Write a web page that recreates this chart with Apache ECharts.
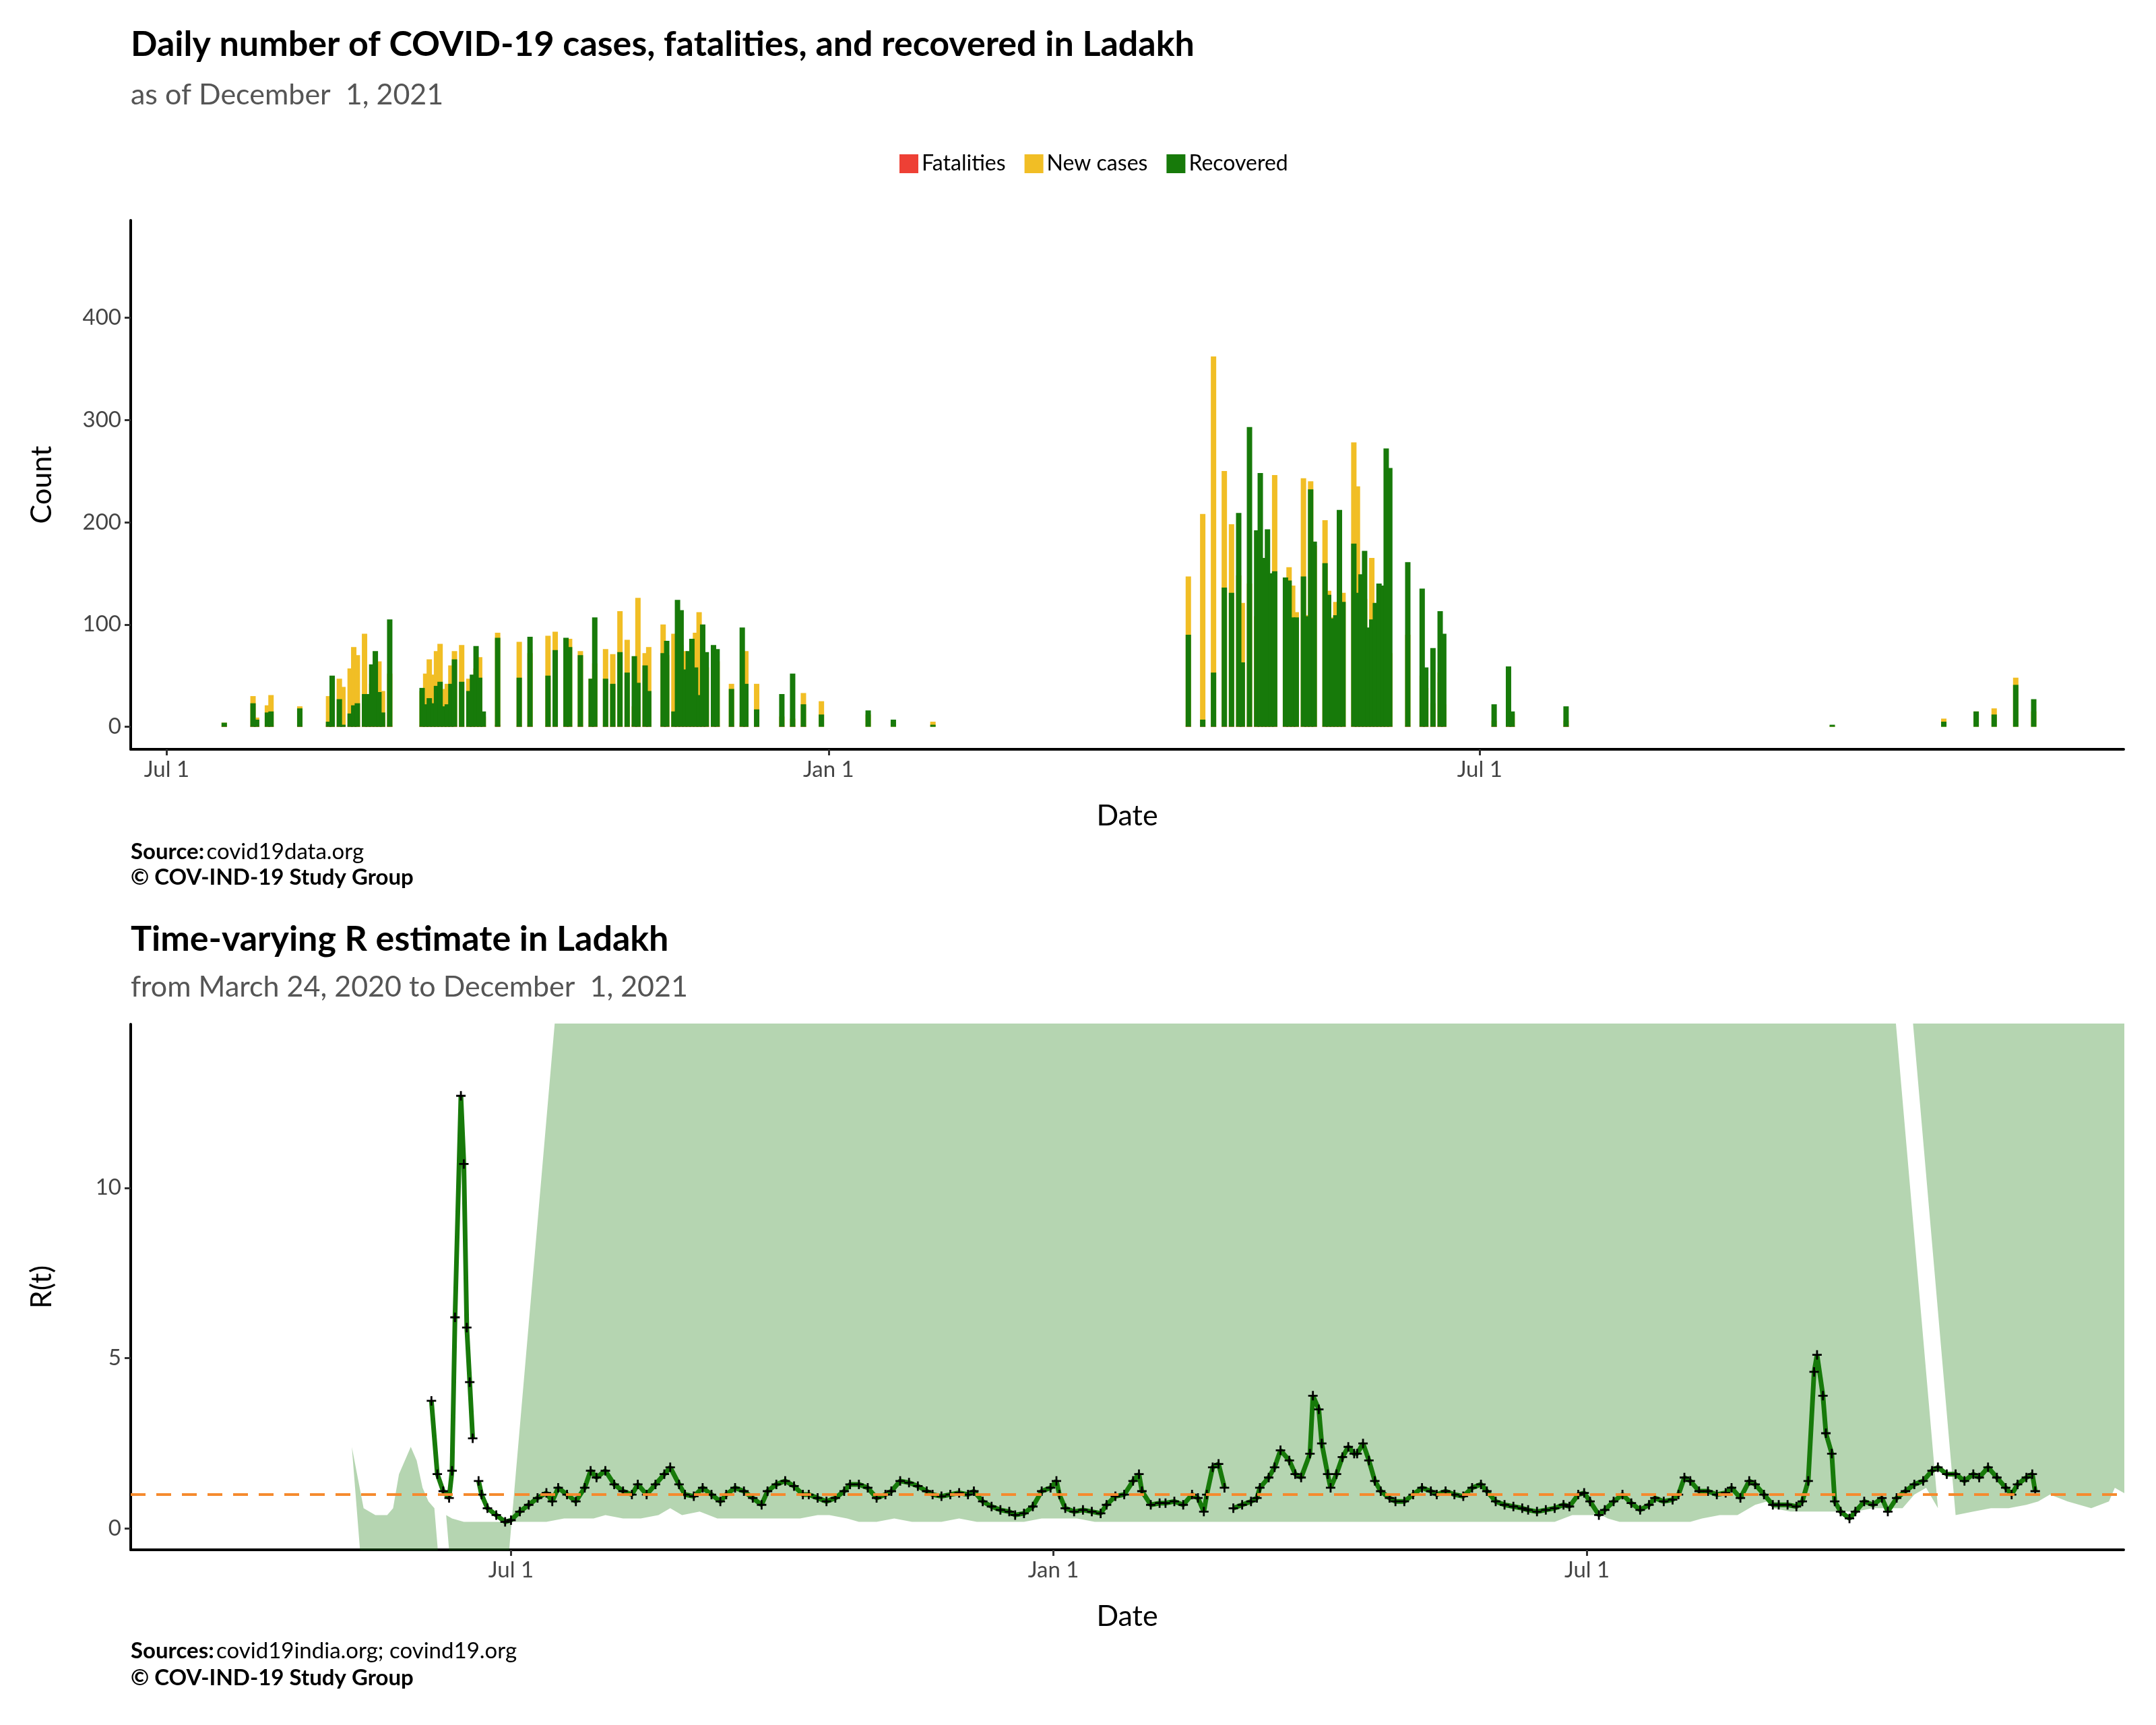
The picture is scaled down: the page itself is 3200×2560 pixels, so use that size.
<!DOCTYPE html>
<html>
<head>
<meta charset="utf-8">
<script src="https://cdn.jsdelivr.net/npm/echarts@6/dist/echarts.min.js"></script>
<style>html,body{margin:0;background:#fff}#c{width:3200px;height:2560px}</style>
</head>
<body>
<div id="c"></div>
<script>
// day offsets from 2020-07-01
var barDays = [16,24,25,28,29,37,45,46,48,49, 51,52,53,55,56,57,58,59,60,62, 71,72,73,74,75,76,77,78,79,80,
	82,84,85,86,87,88,92,98,101,106, 108,111,112,115,118,119,122,124,126,128, 130,131,133,134,138,139,141,142,143,144,
	145,146,147,148,149,150,152,153,157,160, 161,164,171,174,177,182,195,202,213,
	284,288,291,294,296,298,299,301,303,304, 305,306,307,308,311,312,313,314,316,317, 318,319,322,323,324,325,326,327,330,331,
	332,333,334,335,336,337,338,339,340,345, 349,350,352,354,355,369,373,374,389,463, 494,503,508,514,519];
var newCases = [4,30,9,21,31,20,30,42,47,39, 57,78,70,91,31,42,49,64,35,52, 35,52,66,51,74,81,37,42,60,74,
	80,47,37,57,68,10,92,83,72,89, 93,48,86,74,47,62,76,71,113,85, 20,126,72,78,100,70,91,74,80,74,
	7,85,92,112,45,58,13,64,42,4, 74,42,10,8,33,25,12,5,5,
	147,208,362,250,198,148,121,140,108,104, 118,140,90,246,114,156,138,112,243,109, 240,177,202,133,107,122,133,131,278,235,
	141,125,49,165,88,91,113,122,72,90, 50,38,23,53,22,6,13,13,6,1, 8,15,18,48,15];
var fatalities = [1,1,1,1,1,1,1,3,1,1, 1,2,1,1,1,1,1,2,1,1, 1,1,1,1,2,1,1,1,1,1,
	1,1,2,1,1,1,2,1,1,1, 1,2,1,1,1,1,1,1,1,1, 2,1,1,1,2,1,1,1,1,1,
	1,1,1,2,1,1,1,1,1,1, 1,1,1,1,1,0,0,0,0,
	1,1,1,1,1,1,1,1,1,1, 1,1,1,1,1,1,1,1,1,1, 2,1,1,1,1,1,1,1,1,1,
	1,1,1,1,1,1,1,1,1,1, 1,1,1,1,1,1,1,1,1,0, 0,0,0,0,0];
var recovered = [4,23,7,14,15,18,5,50,27,2, 13,21,23,32,32,61,74,34,14,105, 38,22,28,23,40,44,20,22,42,66,
	44,35,51,79,48,15,87,48,88,50, 75,87,78,70,47,107,47,42,73,53, 69,43,60,35,72,84,15,124,114,56,
	74,86,58,31,100,73,80,76,37,97, 42,17,32,52,22,12,16,7,2,
	90,7,53,136,131,209,63,293,192,248, 165,193,150,152,146,143,107,107,147,108, 232,181,160,129,106,109,212,122,179,131,
	149,172,97,105,121,140,138,272,253,161, 135,58,77,113,91,22,59,15,20,2, 5,15,12,41,27];

var rDays = [-27,-25,-23,-21,-20,-19,-17,-16,-15,-14,-13,-12,-11,-10,-8,-5,-2,0,3,6,9,12,14,16,19,22,25,27,29,32,
	35,38,41,43,46,49,52,54,57,59,62,65,68,71,73,76,79,82,85,87,90,93,96,99,101,104,107,110,113,115,
	118,121,124,127,129,132,135,138,141,143,146,149,152,155,157,160,163,166,169,171,174,177,180,183,185,186,188,191,194,197,
	200,202,205,208,211,213,214,217,220,222,225,228,231,233,235,236,238,240,242,243,245,248,251,253,254,257,259,261,264,266,
	268,271,272,274,275,277,278,280,282,284,286,287,289,291,293,295,298,300,303,306,309,312,314,317,320,323,326,329,331,334,
	337,340,343,345,348,351,354,357,359,362,364,366,369,371,374,377,380,383,386,388,391,394,396,398,400,403,406,409,412,414,
	417,420,422,425,428,430,433,436,438,440,442,443,445,446,448,449,451,454,456,459,462,465,467,470,473,476,479,482,484,487,
	490,493,496,498,501,504,507,509,511,514,516,517];
var rVals = [3.75,1.6,1.1,0.9,1.7,6.2,12.7,10.7,5.9,4.3,2.65,null,1.4,1.0,0.6,0.4,0.2,0.25,0.5,0.7,0.9,1.05,0.8,1.2,1.0,0.8,1.2,1.7,1.5,1.7,
	1.3,1.1,1.0,1.3,1.0,1.3,1.6,1.8,1.3,1.0,0.95,1.2,1.0,0.8,1.0,1.2,1.1,0.9,0.7,1.1,1.3,1.4,1.25,1.0,1.0,0.9,0.8,0.9,1.1,1.3,
	1.3,1.2,0.9,1.0,1.1,1.4,1.35,1.25,1.1,1.0,0.95,1.0,1.05,1.0,1.1,0.8,0.65,0.55,0.5,0.4,0.45,0.65,1.1,1.2,1.4,1.0,0.6,0.5,0.55,0.5,
	0.45,0.7,0.95,1.0,1.4,1.6,1.1,0.7,0.75,0.75,0.8,0.7,1.0,0.9,0.5,1.0,1.8,1.9,1.2,null,0.6,0.7,0.8,0.9,1.2,1.5,1.8,2.3,2.0,1.6,
	1.5,2.2,3.9,3.5,2.5,1.6,1.2,1.6,2.1,2.4,2.2,2.2,2.5,2.0,1.4,1.1,0.9,0.8,0.8,1.0,1.2,1.1,1.0,1.1,1.0,0.95,1.2,1.3,1.1,0.8,
	0.7,0.65,0.6,0.55,0.5,0.55,0.6,0.7,0.65,1.0,1.05,0.8,0.4,0.55,0.8,1.0,0.75,0.55,0.7,0.9,0.8,0.85,1.0,1.5,1.4,1.1,1.1,1.0,1.05,1.2,
	0.9,1.4,1.3,1.0,0.7,0.7,0.7,0.65,0.8,1.4,4.6,5.1,3.9,2.8,2.2,0.8,0.5,0.3,0.5,0.8,0.7,0.9,0.5,0.9,1.1,1.3,1.4,1.7,1.8,1.6,
	1.6,1.4,1.6,1.5,1.8,1.5,1.2,1.0,1.3,1.5,1.6,1.1];
var rSpread = [1.2,0.3,0.2,0.2,0.3,0.8,1.2,1.0,0.6,0.4,0.3,null,0.2,0.15,0.1,0.1,0.1,0.1,0.1,0.1,0.15,0.15,0.15,0.2,0.15,0.15,0.2,0.3,0.2,0.25,
	0.15,0.15,0.15,0.15,0.15,0.15,0.2,0.2,0.15,0.1,0.1,0.15,0.1,0.1,0.1,0.15,0.1,0.1,0.1,0.1,0.15,0.15,0.15,0.1,0.1,0.1,0.1,0.1,0.1,0.1,
	0.1,0.1,0.1,0.1,0.1,0.1,0.1,0.1,0.1,0.1,0.1,0.1,0.1,0.1,0.1,0.1,0.1,0.1,0.1,0.1,0.1,0.1,0.2,0.2,0.2,0.15,0.1,0.1,0.1,0.1,
	0.1,0.15,0.2,0.2,0.35,0.4,0.3,0.25,0.25,0.25,0.25,0.25,0.3,0.3,0.3,0.3,0.5,0.6,0.3,null,0.2,0.25,0.3,0.3,0.3,0.35,0.4,0.5,0.4,0.35,
	0.3,0.4,0.6,0.5,0.4,0.3,0.2,0.25,0.3,0.3,0.25,0.25,0.25,0.2,0.15,0.1,0.1,0.1,0.1,0.1,0.1,0.1,0.1,0.1,0.1,0.1,0.1,0.1,0.1,0.1,
	0.1,0.1,0.1,0.1,0.1,0.1,0.1,0.1,0.1,0.15,0.15,0.1,0.1,0.15,0.15,0.2,0.2,0.15,0.15,0.2,0.2,0.2,0.25,0.3,0.25,0.2,0.2,0.2,0.2,0.2,
	0.25,0.3,0.3,0.25,0.2,0.2,0.2,0.2,0.25,0.4,0.8,0.9,0.6,0.4,0.3,0.2,0.2,0.2,0.25,0.3,0.3,0.3,0.3,0.3,0.3,0.35,0.35,0.4,0.4,0.35,
	0.35,0.3,0.3,0.3,0.3,0.3,0.2,0.2,0.2,0.2,0.2,0.15];

// x ticks as day offsets: 2020-07-01, 2021-01-01, 2021-07-01
var xTickDays = [0, 184, 365];
var xTickLabels = ['Jul 1', 'Jan 1', 'Jul 1'];
var yTicksCount = [0, 100, 200, 300, 400];
var yTicksR = [0, 5, 10];

function tickFmt(v) {
	var i = xTickDays.indexOf(Math.round(v));
	return i >= 0 ? xTickLabels[i] : '';
}
function pairs(days, vals) {
	return days.map(function (d, i) { return [d, vals[i] == null ? '-' : vals[i]]; });
}
var rLower = rVals.map(function (v, i) { return v == null ? null : Math.max(0, v - rSpread[i]); });
var rBand = rVals.map(function (v, i) { return v == null ? null : (v + rSpread[i]) - rLower[i]; });

var FONT = 'Lato';
var chart = echarts.init(document.getElementById('c'), null, { renderer: 'canvas' });

function xAxisOf(idx, min, max) {
	return {
		gridIndex: idx, type: 'value', min: min, max: max,
		name: 'Date', nameLocation: 'middle', nameGap: 78,
		nameTextStyle: { fontSize: 43, fontFamily: FONT, color: '#000' },
		axisLine: { show: true, onZero: false, lineStyle: { color: '#000', width: 4 } },
		axisTick: { show: true, length: 9, customValues: xTickDays, lineStyle: { color: '#333', width: 3 } },
		axisLabel: { color: '#444', fontSize: 33, fontFamily: FONT, margin: 14, customValues: xTickDays, formatter: tickFmt },
		splitLine: { show: false }
	};
}
function yAxisOf(idx, min, max, name, ticks) {
	return {
		gridIndex: idx, type: 'value', min: min, max: max,
		name: name, nameLocation: 'middle', nameGap: 110, nameRotate: 90,
		nameTextStyle: { fontSize: 43, fontFamily: FONT, color: '#000' },
		axisLine: { show: true, onZero: false, lineStyle: { color: '#000', width: 4 } },
		axisTick: { show: true, length: 9, customValues: ticks, lineStyle: { color: '#333', width: 3 } },
		axisLabel: { color: '#444', fontSize: 33, fontFamily: FONT, margin: 14, customValues: ticks },
		splitLine: { show: false }
	};
}

var option = {
	animation: false,
	textStyle: { fontFamily: FONT },
	legend: {
		top: 222, left: 1330,
		itemWidth: 28, itemHeight: 28, itemGap: 28,
		textStyle: { fontSize: 32, fontFamily: FONT, color: '#000' },
		data: [
			{ name: 'Fatalities', icon: 'rect', itemStyle: { color: '#EE4035' } },
			{ name: 'New cases', icon: 'rect', itemStyle: { color: '#F1BE25' } },
			{ name: 'Recovered', icon: 'rect', itemStyle: { color: '#177A0A' } }
		]
	},
	grid: [
		{ left: 194, right: 48, top: 327, height: 785 },
		{ left: 194, right: 48, top: 1520, height: 780 }
	],
	xAxis: [xAxisOf(0, -10, 544), xAxisOf(1, -129, 547)],
	yAxis: [yAxisOf(0, -22, 495, 'Count', yTicksCount), yAxisOf(1, -0.62, 14.8, 'R(t)', yTicksR)],
	series: [
		{ name: 'New cases', type: 'bar', stack: 'c', barWidth: 8, data: pairs(barDays, newCases), itemStyle: { color: '#F1BE25' } },
		{ name: 'Fatalities', type: 'bar', stack: 'c', barWidth: 8, data: pairs(barDays, fatalities), itemStyle: { color: '#EE4035' } },
		{ name: 'Recovered', type: 'bar', stack: 'c', barWidth: 8, data: pairs(barDays, recovered), itemStyle: { color: '#177A0A' } },
		{
			type: 'line', xAxisIndex: 1, yAxisIndex: 1, stack: 'band', data: pairs(rDays, rLower),
			symbol: 'none', lineStyle: { opacity: 0 }, connectNulls: false, silent: true
		},
		{
			type: 'line', xAxisIndex: 1, yAxisIndex: 1, stack: 'band', data: pairs(rDays, rBand),
			symbol: 'none', lineStyle: { opacity: 0 }, areaStyle: { color: 'rgba(23,122,10,0.45)' }, connectNulls: false, silent: true
		},
		{
			type: 'line', xAxisIndex: 1, yAxisIndex: 1, data: pairs(rDays, rVals),
			connectNulls: false,
			lineStyle: { color: '#177A0A', width: 7 },
			symbol: 'path://M4,0h2v4h4v2h-4v4h-2v-4h-4v-2h4z', symbolSize: 14,
			itemStyle: { color: '#000' },
			markLine: {
				silent: true, symbol: 'none', label: { show: false },
				lineStyle: { color: '#F58A2E', type: [22, 16], width: 4 },
				data: [{ yAxis: 1 }]
			}
		}
	],
	graphic: [
		{ type: 'text', left: 194, top: 40, style: { text: 'Daily number of COVID-19 cases, fatalities, and recovered in Ladakh', font: 'bold 52px Lato', fill: '#000' } },
		{ type: 'text', left: 194, top: 120, style: { text: 'as of December  1, 2021', font: '43px Lato', fill: '#555' } },
		{ type: 'text', left: 194, top: 1248, style: { rich: { b: { font: 'bold 33px Lato', fill: '#000' }, n: { font: '33px Lato', fill: '#000' } }, text: '{b|Source:} {n|covid19data.org}' } },
		{ type: 'text', left: 194, top: 1286, style: { text: '© COV-IND-19 Study Group', font: 'bold 33px Lato', fill: '#000' } },
		{ type: 'text', left: 194, top: 1368, style: { text: 'Time-varying R estimate in Ladakh', font: 'bold 52px Lato', fill: '#000' } },
		{ type: 'text', left: 194, top: 1444, style: { text: 'from March 24, 2020 to December  1, 2021', font: '43px Lato', fill: '#555' } },
		{ type: 'text', left: 194, top: 2434, style: { rich: { b: { font: 'bold 33px Lato', fill: '#000' }, n: { font: '33px Lato', fill: '#000' } }, text: '{b|Sources:} {n|covid19india.org; covind19.org}' } },
		{ type: 'text', left: 194, top: 2474, style: { text: '© COV-IND-19 Study Group', font: 'bold 33px Lato', fill: '#000' } }
	]
};
chart.setOption(option);
</script>
</body>
</html>
